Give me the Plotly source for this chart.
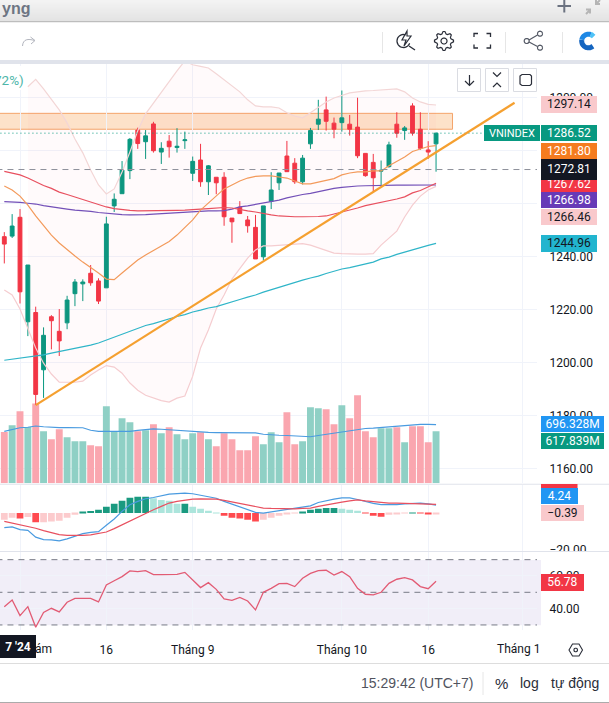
import math
import plotly.graph_objects as go

# candles
opens = [1247.5, 1247.7, 1254.8, 1215.4, 1218.9, 1197.3, 1217.3, 1211.8, 1215.0, 1226.0, 1229.7, 1233.7, 1230.8, 1228.2,
         1259.1, 1263.7, 1272.4, 1287.7, 1283.3, 1290.0, 1279.4, 1283.5, 1281.1, 1283.7, 1271.4, 1276.4, 1268.2, 1269.9,
         1269.9, 1254.5, 1258.6, 1253.8, 1251.0, 1239.9, 1260.8, 1267.8, 1277.9, 1275.2, 1268.2, 1282.5, 1289.9, 1295.3,
         1290.3, 1290.5, 1289.9, 1288.8, 1278.9, 1275.5, 1272.2, 1273.9, 1289.9, 1287.5, 1296.8, 1288.0, 1280.2, 1282.5]
highs = [1249.2, 1256.0, 1257.9, 1236.8, 1221.1, 1213.3, 1217.9, 1220.2, 1225.2, 1231.5, 1231.4, 1236.8, 1231.8, 1255.0,
         1263.8, 1276.0, 1284.7, 1288.6, 1287.7, 1290.8, 1283.1, 1285.8, 1288.4, 1287.1, 1277.7, 1282.5, 1274.5, 1269.9,
         1271.8, 1254.5, 1260.9, 1255.3, 1255.7, 1259.1, 1271.8, 1271.5, 1283.6, 1277.1, 1278.3, 1288.5, 1299.1, 1300.3,
         1292.4, 1302.6, 1293.4, 1299.9, 1279.0, 1278.7, 1276.2, 1283.3, 1294.4, 1289.2, 1297.8, 1294.4, 1283.5, 1286.7]
lows = [1237.4, 1247.0, 1222.3, 1210.0, 1184.0, 1186.7, 1205.0, 1202.5, 1212.6, 1221.3, 1223.2, 1229.0, 1222.1, 1228.2,
        1256.8, 1263.7, 1269.2, 1280.6, 1276.8, 1279.2, 1274.9, 1277.3, 1279.2, 1280.6, 1268.5, 1266.3, 1263.2, 1263.5,
        1251.6, 1245.2, 1256.2, 1249.0, 1239.1, 1238.7, 1257.9, 1265.1, 1272.0, 1267.4, 1267.2, 1280.6, 1287.7, 1287.5,
        1284.6, 1287.1, 1285.6, 1277.1, 1270.1, 1264.5, 1267.0, 1273.5, 1284.8, 1284.0, 1285.6, 1280.2, 1276.8, 1272.0]
closes = [1244.7, 1251.5, 1226.7, 1236.8, 1188.0, 1210.3, 1215.8, 1208.2, 1223.6, 1230.4, 1230.4, 1230.1, 1223.2, 1252.3,
          1261.6, 1272.6, 1284.2, 1282.6, 1285.5, 1279.9, 1280.8, 1281.4, 1281.6, 1284.0, 1275.9, 1268.2, 1274.2, 1267.8,
          1255.0, 1253.1, 1256.2, 1251.6, 1239.1, 1259.1, 1265.1, 1271.5, 1272.0, 1268.2, 1277.1, 1287.5, 1291.8, 1291.0,
          1288.0, 1292.3, 1288.0, 1278.0, 1270.5, 1269.7, 1272.5, 1282.1, 1286.5, 1288.5, 1286.52, 1280.8, 1279.4, 1286.52]

ma_orange = [1266.6, 1265.1, 1262.8, 1259.4, 1255.3, 1251.5, 1248.1, 1245.1, 1242.5, 1240.2, 1237.9, 1236.0, 1233.8, 1231.5,
             1231.3, 1233.8, 1236.4, 1238.7, 1240.6, 1242.3, 1244.0, 1245.7, 1248.1, 1250.8, 1253.8, 1257.5, 1260.2, 1262.8,
             1265.5, 1267.0, 1268.5, 1269.6, 1270.2, 1270.4, 1270.4, 1270.0, 1269.6, 1268.5, 1267.4, 1267.4, 1268.1, 1268.9,
             1269.4, 1270.8, 1271.5, 1271.9, 1271.9, 1272.3, 1272.3, 1274.2, 1275.7, 1277.5, 1279.6, 1280.6, 1281.5, 1281.8]
ma_red = [1272.1, 1271.5, 1270.8, 1269.6, 1268.1, 1266.8, 1265.7, 1264.3, 1263.4, 1262.5, 1261.5, 1260.6, 1259.6, 1258.7,
          1258.1, 1257.7, 1257.4, 1257.2, 1257.2, 1257.2, 1257.2, 1257.4, 1257.4, 1257.5, 1257.8, 1257.9, 1258.1, 1258.3,
          1258.5, 1258.3, 1257.7, 1257.2, 1256.8, 1256.2, 1255.7, 1255.3, 1255.1, 1255.0, 1255.0, 1255.0, 1255.1, 1255.3,
          1256.0, 1256.8, 1257.5, 1258.3, 1259.2, 1259.8, 1260.6, 1261.1, 1261.7, 1262.5, 1264.0, 1264.9, 1266.2, 1267.62]
ma_purple = [1260.7, 1260.6, 1260.4, 1260.1, 1259.8, 1259.2, 1258.7, 1258.3, 1257.9, 1257.5, 1257.3, 1257.0, 1256.6, 1256.3,
             1256.0, 1255.8, 1255.7, 1255.7, 1255.8, 1256.0, 1256.2, 1256.3, 1256.4, 1256.7, 1256.8, 1257.1, 1257.2, 1257.2,
             1257.3, 1257.9, 1258.7, 1259.1, 1259.6, 1260.2, 1260.8, 1261.3, 1262.1, 1262.8, 1263.4, 1263.8, 1264.5, 1265.1,
             1265.7, 1266.1, 1266.4, 1266.6, 1266.7, 1266.8, 1266.9, 1266.9, 1266.9, 1266.9, 1266.9, 1266.95, 1266.96, 1266.98]
ma_teal = [1200.9, 1201.3, 1201.9, 1202.2, 1202.6, 1202.9, 1203.6, 1204.2, 1204.7, 1205.4, 1206.0, 1206.6, 1207.4, 1208.5,
           1209.6, 1210.8, 1211.9, 1213.0, 1214.0, 1214.7, 1215.7, 1216.4, 1217.4, 1218.1, 1219.1, 1219.8, 1220.6, 1221.1,
           1222.1, 1222.8, 1223.8, 1224.7, 1225.5, 1226.6, 1227.5, 1228.5, 1229.4, 1230.4, 1231.1, 1231.9, 1232.6, 1233.6,
           1234.5, 1235.3, 1235.8, 1236.5, 1237.2, 1237.9, 1239.1, 1239.8, 1240.8, 1241.7, 1242.6, 1243.4, 1244.2, 1244.96]

# upper band is hidden by the legend for the first bars
bb_start = 3
bb_upper = [1304.0, 1306.8, 1303.2, 1299.4, 1295.3, 1290.4, 1284.3, 1279.1, 1272.6, 1267.0, 1263.6,
            1265.5, 1271.9, 1279.4, 1287.4, 1293.8, 1297.9, 1302.1, 1305.9, 1310.0, 1313.8, 1312.3, 1311.7, 1311.1, 1308.9,
            1306.6, 1304.3, 1302.1, 1299.1, 1296.8, 1296.4, 1296.4, 1296.0, 1294.2, 1293.0, 1292.3, 1294.2, 1296.4, 1298.3,
            1299.8, 1300.8, 1301.7, 1302.1, 1302.5, 1302.6, 1302.8, 1303.0, 1303.2, 1302.1, 1299.8, 1298.3, 1297.4, 1297.14]
bb_lower = [1227.4, 1225.5, 1220.2, 1212.6, 1205.5, 1199.8, 1195.7, 1192.6, 1192.5, 1192.6, 1193.0, 1195.3, 1197.2, 1198.9,
            1198.3, 1196.0, 1192.3, 1189.6, 1187.7, 1186.6, 1185.7, 1185.1, 1186.6, 1187.4, 1194.9, 1205.5, 1212.3, 1220.2,
            1225.5, 1231.5, 1235.3, 1239.4, 1242.5, 1244.0, 1244.0, 1244.2, 1244.3, 1244.5, 1244.9, 1244.3, 1243.2, 1242.1,
            1241.3, 1241.1, 1240.9, 1240.9, 1240.9, 1241.1, 1244.3, 1247.0, 1249.6, 1254.9, 1259.4, 1262.8, 1265.1, 1266.46]

trend_x = [4, 65]
trend_y = [1184.0, 1298.0]
zone_top = 1294.0
zone_bottom = 1288.0
zone_end = 57.1
last_close = 1286.52
dashed_price = 1272.81

# volume in millions
volumes = [609, 688, 855, 668, 946, 617, 522, 641, 546, 499, 499, 451, 439, 914, 609, 772, 724, 617, 629, 700, 594, 665, 582, 522,
           594, 605, 522, 439, 594, 522, 392, 392, 558, 463, 605, 487, 843, 463, 499, 902, 890, 878, 700, 926, 772, 1045, 617,
           546, 653, 653, 665, 487, 677, 677, 487, 617.839]
vol_ma = [617, 641, 659, 665, 680, 671, 662, 661, 661, 661, 659, 629, 617, 617, 615, 617, 617, 629, 641, 645, 641, 635, 626, 617,
          609, 605, 603, 602, 601, 599, 598, 598, 597, 582, 573, 570, 567, 561, 558, 552, 567, 582, 597, 611, 629, 641, 650,
          655, 662, 671, 683, 688, 694, 700, 698, 696.328]

macd_line = [-7.9, -7.5, -8.9, -9.3, -13.0, -14.3, -14.5, -15.0, -13.9, -12.7, -11.1, -10.4, -10.0, -6.6, -3.2, 0.9, 4.5, 6.3, 7.7,
             8.4, 9.5, 10.2, 10.5, 10.7, 10.4, 9.5, 8.8, 8.0, 6.3, 4.8, 3.6, 2.1, 0.4, 0.0, 0.7, 1.4, 2.1, 2.5, 3.6, 3.9, 5.7, 6.8,
             7.5, 8.2, 8.2, 7.3, 6.1, 5.2, 4.6, 4.5, 4.6, 5.0, 5.2, 5.4, 5.0, 4.24]
macd_signal = [-4.5, -5.4, -6.3, -7.1, -8.2, -9.5, -10.5, -11.6, -12.0, -12.1, -12.0, -11.8, -11.1, -10.2, -8.4, -6.3, -4.1, -2.1,
               -0.2, 1.8, 3.6, 5.4, 6.3, 7.1, 7.5, 7.7, 7.7, 7.5, 6.8, 5.9, 5.2, 4.5, 3.6, 2.7, 2.5, 2.3, 2.3, 2.3, 2.5, 2.7, 3.6,
               4.5, 5.4, 5.9, 6.6, 7.1, 6.6, 6.1, 5.7, 5.4, 5.4, 5.2, 5.2, 5.0, 4.8, 4.63]
macd_hist = [-3.6, -2.5, -3.0, -2.1, -5.0, -5.0, -4.6, -4.1, -2.5, -0.9, 0.9, 1.1, 1.8, 3.4, 5.0, 6.6, 8.2, 8.75, 8.75, 8.0, 7.1, 6.6,
             5.0, 5.0, 3.4, 2.3, 1.2, 0.2, -1.4, -2.5, -3.0, -3.6, -4.6, -3.6, -2.5, -1.4, -0.5, -0.2, 0.9, 1.8, 2.3, 2.7, 2.7, 2.3,
             1.8, 1.2, -0.2, -1.4, -2.0, -0.9, -0.5, -0.2, 0.2, -0.2, -0.7, -0.39]

rsi = [41.2, 45.3, 35.7, 41.2, 28.6, 37.6, 40.2, 38.0, 43.9, 46.3, 46.3, 46.3, 44.1, 54.5, 57.1, 59.6, 63.1, 62.7, 63.3, 60.8, 60.8,
       61.0, 61.0, 62.2, 57.6, 52.9, 55.9, 51.8, 45.9, 45.1, 46.9, 44.7, 39.2, 50.0, 52.4, 55.3, 55.5, 53.5, 58.6, 61.6, 63.3, 63.5,
       60.6, 62.7, 59.6, 52.4, 48.8, 48.4, 50.0, 55.5, 58.0, 59.0, 57.6, 53.5, 52.2, 56.78]
rsi_levels = [70, 50, 30]

# 1260 and 1280 sit fully behind the value tags, they only keep their grid lines
price_ticks = [1160, 1180, 1200, 1220, 1240, 1260, 1280, 1300]
price_labels = ["1160.00", "1180.00", "1200.00", "1220.00", "1240.00", "", "", "1300.00"]
time_ticks = [2, 13, 24, 43, 54, 66]
time_labels = ["", "16", "Tháng 9", "Tháng 10", "16", ""]

WIDTH, HEIGHT = 609, 703
RIGHT = 537
GREEN, RED = "#089981", "#F23645"
FONT = "Roboto"
idx = list(range(len(closes)))


def px_x(x):
    return x / WIDTH


def px_y(y):
    return 1 - y / HEIGHT


def arc(cx, cy, r, a0, a1, n=24):
    pts = []
    for k in range(n + 1):
        a = math.radians(a0 + (a1 - a0) * k / n)
        pts.append((cx + r * math.cos(a), cy + r * math.sin(a)))
    return "M" + " L".join(f"{x:.1f} {y:.1f}" for x, y in pts)


def gear(cx, cy, r_out, r_in, teeth=8):
    pts = []
    for k in range(teeth * 4):
        a = 2 * math.pi * (k - 0.5) / (teeth * 4)
        r = r_out if k % 4 in (0, 1) else r_in
        pts.append((cx + r * math.cos(a), cy + r * math.sin(a)))
    return "M" + " L".join(f"{x:.1f} {y:.1f}" for x, y in pts) + " Z"


fig = go.Figure()

# volume goes under the price overlay
vol_colors = ["#8FD0C5" if c >= o else "#FAA6AF" for o, c in zip(opens, closes)]
fig.add_trace(go.Bar(x=idx, y=volumes, width=0.88, marker=dict(color=vol_colors, line_width=0), yaxis="y"))
fig.add_trace(go.Scatter(x=idx, y=vol_ma, mode="lines", line=dict(color="#4A9BE0", width=1.2), yaxis="y"))

# bollinger fill and edges
fig.add_trace(go.Scatter(x=idx[bb_start:] + idx[:bb_start - 1:-1], y=bb_upper + bb_lower[:bb_start - 1:-1], mode="lines",
                         line_width=0, fill="toself", fillcolor="rgba(242,54,69,0.025)", yaxis="y2"))
fig.add_trace(go.Scatter(x=idx[bb_start:], y=bb_upper, mode="lines", line=dict(color="#F3D6D6", width=1.2), yaxis="y2"))
fig.add_trace(go.Scatter(x=idx, y=bb_lower, mode="lines", line=dict(color="#F5CDD0", width=1.2), yaxis="y2"))

fig.add_trace(go.Candlestick(x=idx, open=opens, high=highs, low=lows, close=closes, whiskerwidth=0, yaxis="y2",
                             increasing=dict(line=dict(color=GREEN, width=1), fillcolor=GREEN),
                             decreasing=dict(line=dict(color=RED, width=1), fillcolor=RED)))

for values, color in [(ma_teal, "#2FB5C8"), (ma_purple, "#7350B8"), (ma_red, "#E8505F"), (ma_orange, "#F39A5B")]:
    fig.add_trace(go.Scatter(x=idx, y=values, mode="lines", line=dict(color=color, width=1.2), yaxis="y2"))

fig.add_trace(go.Scatter(x=[-1, (484 - 4.3) / 7.85], y=[last_close, last_close], mode="lines",
                         line=dict(color=GREEN, width=1, dash="1px,3px"), yaxis="y2"))
fig.add_trace(go.Scatter(x=[-1, 69], y=[dashed_price, dashed_price], mode="lines",
                         line=dict(color="#8E919B", width=1, dash="6px,5px"), yaxis="y2"))
fig.add_trace(go.Scatter(x=trend_x, y=trend_y, mode="lines", line=dict(color="#F5A030", width=2.2), yaxis="y2"))

# macd
hist_colors = []
for i, h in enumerate(macd_hist):
    rising = i == 0 or h >= macd_hist[i - 1]
    if h >= 0:
        hist_colors.append("#1A9A80" if rising else "#ACE5DC")
    else:
        hist_colors.append("#FCCBCD" if rising else "#FF4A4F")
fig.add_trace(go.Bar(x=idx, y=macd_hist, width=0.86, marker=dict(color=hist_colors, line_width=0), yaxis="y3"))
fig.add_trace(go.Scatter(x=idx, y=macd_line, mode="lines", line=dict(color="#4A9BE0", width=1.2), yaxis="y3"))
fig.add_trace(go.Scatter(x=idx, y=macd_signal, mode="lines", line=dict(color="#E8505F", width=1.2), yaxis="y3"))

# rsi
for level in rsi_levels:
    fig.add_trace(go.Scatter(x=[-1, 69], y=[level, level], mode="lines",
                             line=dict(color="#787B86", width=1, dash="6px,5px"), yaxis="y4"))
fig.add_trace(go.Scatter(x=idx, y=rsi, mode="lines", line=dict(color="#E25B74", width=1.3), yaxis="y4"))

# pixel axes for the page chrome
fig.add_trace(go.Scatter(x=[0], y=[0], mode="none", xaxis="x9", yaxis="y9"))

chrome = []
annotations = []


def rect(x0, y0, x1, y1, fill, line=None, width=0):
    chrome.append(dict(type="rect", xref="x9", yref="y9", x0=x0, y0=y0, x1=x1, y1=y1, fillcolor=fill,
                       line=dict(color=line or fill, width=width), layer="above"))


def stroke(path, color, width=1.5, fill=None):
    chrome.append(dict(type="path", xref="x9", yref="y9", path=path, fillcolor=fill or "rgba(0,0,0,0)",
                       line=dict(color=color, width=width), layer="above"))


def text(label, x, y, size=12, color="#131722", anchor="center", font=FONT, weight=None):
    annotations.append(dict(text=label, xref="x9", yref="y9", x=x, y=y, xanchor=anchor, yanchor="middle", showarrow=False,
                            font=dict(family=font, size=size, color=color, weight=weight)))


def tag(label, x0, y0, x1, y1, bg, color="#FFFFFF", size=12):
    annotations.append(dict(text=label, xref="x9", yref="y9", x=x0, y=y0, xanchor="left", yanchor="top", showarrow=False,
                            width=x1 - x0, height=y1 - y0, align="center", valign="middle", borderpad=0, borderwidth=0,
                            bgcolor=bg, font=dict(family=FONT, size=size, color=color)))


# window title strip
for row in range(22):
    shade = 243 - row * 17 // 21
    rect(0, row, WIDTH, row + 1, f"rgb({shade},{shade},{shade})")
rect(0, 21, WIDTH, 22.5, "#BDBDBD")
text("yng", 0, 8, size=16, color="#6D7583", anchor="left", font="Liberation Sans", weight="bold")
stroke("M557.5 6 L571 6 M564.3 0 L564.3 12.5", "#6B7280", 2)
stroke("M586 14 L590 10 M586 9.5 L590 9.5 L590 13.5 M600 0 L596 4 M596 0 L596 4 L600 4", "#B5B5B5", 2)

# toolbar
rect(0, 22.5, WIDTH, 60, "#FFFFFF")
rect(0, 60, WIDTH, 64, "#E0E3EB")
stroke("M22.5 46 C23 39 28 38.5 34.5 40.5 M30.5 37 L35 40.5 L31 44", "#B2B5BE", 1)
for sep in [382.5, 505.5, 562.5]:
    stroke(f"M{sep} 32 L{sep} 53", "#E6E6E6", 1)
stroke(arc(403.5, 41, 6.5, 20, 290), "#2A2E39", 1.3)
stroke("M409 46 L415 50", "#2A2E39", 1.3)
stroke("M407 31 L402 40 L406 40 L404 46 L411 36 L407 36 Z", "#2A2E39", 1.2)
stroke(gear(444, 41, 9.5, 7.3), "#2A2E39", 1.2)
stroke(arc(444, 41, 3, 0, 360), "#2A2E39", 1.2)
stroke("M474 37 L474 33.5 L478 33.5 M486.5 33.5 L490.5 33.5 L490.5 37 M490.5 44.5 L490.5 48 L486.5 48 M478 48 L474 48 L474 44.5",
       "#2A2E39", 1.3)
stroke("M529 40 L537.5 35 M529 42 L537.5 46.5", "#555A66", 1.2)
for cx, cy in [(526.7, 41), (540, 33.7), (540, 47.7)]:
    stroke(arc(cx, cy, 2.5, 0, 360), "#555A66", 1.2)
stroke(arc(588.5, 41, 6.8, 50, 190), "#1565C0", 5)
stroke(arc(588.5, 41, 6.8, 190, 290), "#1E88E5", 5)
stroke(arc(588.5, 41, 6.8, 290, 320), "#4FC3F7", 5)

# separators and status bar
for y in [483.7, 551]:
    rect(0, y, WIDTH, y + 1, "#E0E3EB")
rect(RIGHT + 1, 552, WIDTH, 556, "#FFFFFF")
rect(RIGHT + 1, 485, WIDTH, 488, "#FFFFFF")
rect(0, 663, WIDTH, 664, "#DDDDDD")
rect(0, 702, WIDTH, 703, "#ABABAB")
stroke("M483 672 L483 695", "#E6E6E6", 1)
text("15:29:42 (UTC+7)", 417, 683, size=14, color="#50535E", font="Liberation Sans")
text("%", 501, 683, size=15, color="#2A2E39", font="Liberation Sans")
text("log", 529, 683, size=14, color="#2A2E39", font="Liberation Sans")
text("tự động", 575, 683, size=14, color="#2A2E39", font="Liberation Sans")
stroke("M569 650 L572.5 644 L579 644 L582.5 650 L579 656 L572.5 656 Z", "#2A2E39", 1.1)
stroke(arc(575.7, 650, 1.8, 0, 360), "#2A2E39", 1.1)

# pane buttons
for x0, x1 in [(457.5, 480.5), (485.5, 508.5), (513.5, 536.5)]:
    rect(x0, 68.5, x1, 91.5, "#FFFFFF", "#DADCE2", 1)
stroke("M469.5 75 L469.5 85 M465 81 L469.5 85.5 L474 81", "#2A2E39", 1.2)
stroke("M493 72.5 L497 76.5 L501 72.5 M493 87 L497 83 L501 87", "#2A2E39", 1.2)
stroke("M520 76 L522 74.5 L530 74.5 L531.5 76 L531.5 84 L530 85.5 L522 85.5 L520 84 Z", "#2A2E39", 1.2)

# legend remainder
rect(0, 66, 25, 90, "#FFFFFF")
text("72%)", 26, 80, size=13.5, color="#4DB6A9", anchor="right")

# price scale tags, later ones lie over earlier ones
tag("1297.14", 541, 96, 597, 112.7, "#F9C9CC", "#131722")
tag("VNINDEX", 484, 125.3, 540, 141.7, GREEN, size=11)
tag("1286.52", 541, 125.3, 597, 141.7, GREEN)
tag("1281.80", 541, 142.7, 597, 158.7, "#F57C1F")
tag("1267.62", 541, 176, 597, 192.3, RED)
tag("1272.81", 541, 159.3, 597, 180, "#131722")
tag("1266.98", 541, 192.3, 597, 208.7, "#673AB7")
tag("1266.46", 541, 209.3, 597, 225.7, "#F9C9CC", "#131722")
tag("1244.96", 541, 235, 597, 251.7, "#22B5CF", "#131722")
tag("696.328M", 541, 416.3, 604.3, 432.7, "#2196F3")
tag("617.839M", 541, 433.3, 604.3, 449.3, GREEN)
rect(541, 484, 577.5, 488.3, RED)
tag("4.24", 541, 488.3, 578, 504.7, "#2196F3")
tag("\u22120.39", 541, 505, 584, 521.3, "#F9C9CC", "#131722")
tag("56.78", 541, 574.3, 583.7, 591, RED)
text("ám", 43.5, 649, size=12, color="#131722")
text("Tháng 1", 518.5, 649, size=12, color="#131722")
annotations.append(dict(text="<b>7 '24</b>", xref="x9", yref="y9", x=0, y=635, xanchor="left", yanchor="top", showarrow=False,
                        width=36, height=23.3, align="center", valign="middle", borderpad=0, borderwidth=0, bgcolor="#131722",
                        font=dict(family=FONT, size=12, color="#FFFFFF")))

# below everything: rsi band, and the supply zone on the price axis
underlay = [
    dict(type="rect", xref="paper", yref="paper", x0=0, x1=px_x(541), y0=px_y(625.3), y1=px_y(560),
         fillcolor="#F1EEF8", line_width=0, layer="below"),
    dict(type="rect", xref="x", yref="y2", x0=-1, x1=zone_end, y0=zone_bottom, y1=zone_top,
         fillcolor="rgba(247,150,60,0.28)", line=dict(color="#F4A46A", width=1), layer="below"),
]

grid = "#F0F3FA"
tick_font = dict(family=FONT, size=12, color="#131722")
hide = dict(visible=False, fixedrange=True, automargin=False)
main_dom = [px_y(483.3), px_y(64)]


def right_axis(domain, lo, hi, ticks, labels):
    return dict(domain=domain, range=[lo, hi], side="right", anchor="x", tickmode="array", tickvals=ticks, ticktext=labels,
                showgrid=True, gridcolor=grid, gridwidth=1, zeroline=False, showline=False, ticks="outside", ticklen=9,
                tickcolor="rgba(0,0,0,0)", tickfont=tick_font, automargin=False)


price_axis = right_axis(main_dom, 1154.5, 1312.6, price_ticks, price_labels)
price_axis["overlaying"] = "y"

fig.update_layout(
    template="none",
    width=WIDTH, height=HEIGHT, autosize=False, margin=dict(l=0, r=0, t=0, b=0, pad=0), showlegend=False, barmode="overlay",
    paper_bgcolor="#FFFFFF", plot_bgcolor="rgba(0,0,0,0)", hovermode=False,
    xaxis=dict(domain=[0, px_x(RIGHT)], range=[-0.548, 67.86], anchor="y4", tickmode="array", tickvals=time_ticks,
               ticktext=time_labels, showgrid=True, gridcolor=grid, zeroline=False, showline=False, rangeslider_visible=False,
               ticks="outside", ticklen=9, tickcolor="rgba(0,0,0,0)", tickfont=tick_font, automargin=False),
    yaxis=dict(domain=main_dom, range=[0, 4974], **hide),
    yaxis2=price_axis,
    yaxis3=right_axis([px_y(550.7), px_y(484.5)], -20.3, 15.4, [-20], ["\u221220.00"]),
    yaxis4=right_axis([px_y(630), px_y(551.5)], 26.9, 75, [40, 60], ["40.00", "60.00"]),
    xaxis9=dict(domain=[0, 1], range=[0, WIDTH], anchor="y9", **hide),
    yaxis9=dict(domain=[0, 1], range=[HEIGHT, 0], anchor="x9", **hide),
    shapes=underlay + chrome,
    annotations=annotations,
)

fig.write_html("out.html", config=dict(displayModeBar=False), post_script="document.body.style.margin='0';document.body.style.overflow='hidden';")
